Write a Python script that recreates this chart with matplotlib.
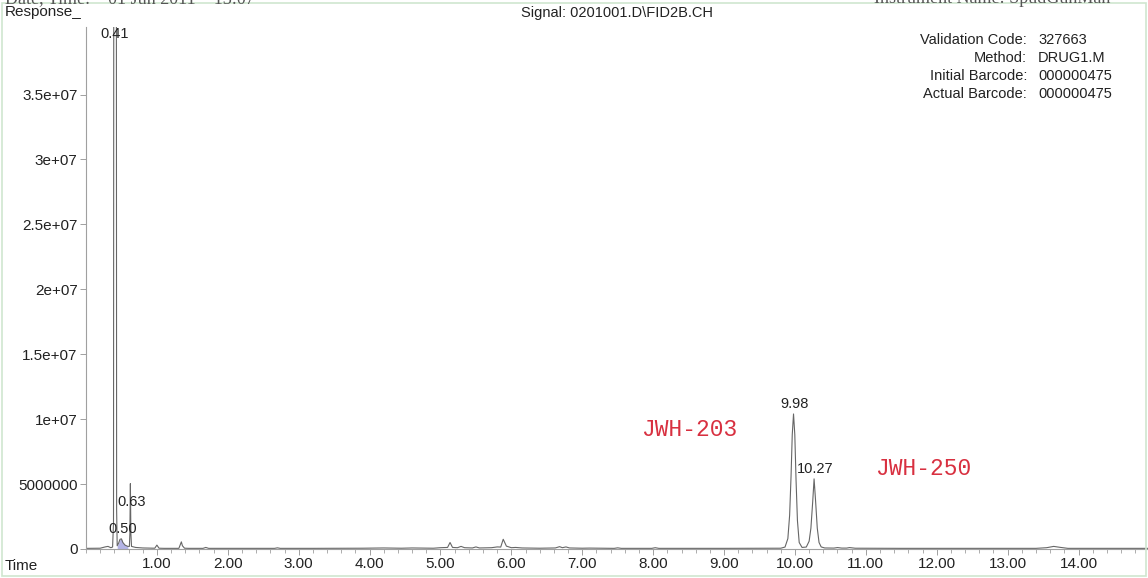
#!/usr/bin/env python3
"""
Recreate GC-FID chromatogram (Signal 0201001.D\\FID2B.CH)
"""
import numpy as np
import matplotlib
matplotlib.use('Agg')
import matplotlib.pyplot as plt
from matplotlib.ticker import FixedLocator, FixedFormatter, MultipleLocator, FormatStrFormatter
from matplotlib.patches import Rectangle

plt.rcParams['font.family'] = ['Liberation Sans', 'DejaVu Sans']

# trace vertices: retention time (min) and response
trace_t = [0.02, 0.20, 0.27, 0.31, 0.35, 0.375, 0.388, 0.393, 0.41, 0.427, 0.432,
           0.44, 0.46, 0.48, 0.50, 0.52, 0.55, 0.59, 0.612, 0.619, 0.626, 0.633,
           0.642, 0.70, 0.80, 0.97, 1.00, 1.03, 1.10, 1.31, 1.345, 1.36, 1.39,
           1.45, 1.65, 1.69, 1.73, 2.00, 2.66, 2.70, 2.74, 3.20, 3.90, 4.20, 4.45,
           4.60, 4.90, 5.00, 5.10, 5.135, 5.17, 5.24, 5.29, 5.34, 5.45, 5.50, 5.55,
           5.72, 5.80, 5.85, 5.885, 5.93, 6.00, 6.06, 6.15, 6.40, 6.62, 6.68, 6.72,
           6.77, 6.82, 7.00, 7.10, 7.45, 7.50, 7.55, 7.98, 8.03, 8.08, 9.00, 9.80,
           9.86, 9.90, 9.925, 9.945, 9.962, 9.98, 9.998, 10.015, 10.035, 10.06,
           10.10, 10.16, 10.20, 10.225, 10.25, 10.27, 10.29, 10.315, 10.34, 10.37,
           10.42, 10.55, 10.60, 10.66, 10.73, 10.77, 10.85, 11.50, 13.40, 13.55,
           13.65, 13.75, 13.85, 14.98]
trace_y = [5e4, 6e4, 1.6e5, 2.0e5, 1.0e5, 1.5e5, 2.0e6, 6.0e7, 4.0e8, 6.0e7, 3.0e6,
           2.5e5, 4.5e5, 7.5e5, 7.8e5, 5.0e5, 3.0e5, 2.0e5, 2.0e5, 1.2e6, 5.03e6, 1.2e6,
           2.0e5, 1.2e5, 8e4, 6e4, 3.0e5, 6e4, 5e4, 5e4, 5.5e5, 2.5e5, 6e4,
           5e4, 5e4, 1.2e5, 5e4, 5e4, 5e4, 9e4, 5e4, 5e4, 6e4, 8e4, 6e4,
           8e4, 6e4, 1.0e5, 1.2e5, 5.0e5, 1.2e5, 1.0e5, 2.0e5, 1.0e5, 8e4, 1.6e5, 8e4,
           1.0e5, 1.6e5, 1.5e5, 7.5e5, 2.2e5, 1.0e5, 1.2e5, 8e4, 6e4, 8e4, 1.8e5, 1.0e5,
           1.6e5, 8e4, 6e4, 7e4, 5e4, 9e4, 5e4, 5e4, 1.0e5, 5e4, 5e4, 6e4,
           1.5e5, 8.0e5, 2.6e6, 5.6e6, 8.8e6, 1.04e7, 8.8e6, 5.4e6, 2.2e6, 5.0e5,
           1.2e5, 1.5e5, 6.0e5, 1.6e6, 3.6e6, 5.4e6, 3.8e6, 1.6e6, 5.0e5, 1.6e5,
           8e4, 7e4, 1.1e5, 7e4, 7e4, 1.1e5, 6e4, 5e4, 5e4, 1.0e5,
           2.0e5, 1.2e5, 5e4, 5e4]

# integrated peaks with labels
peak_rt = [0.41, 0.50, 0.63, 9.98, 10.27]
peak_names = ['0.41', '0.50', '0.63', '9.98', '10.27']
shaded_range = (0.44, 0.60)

# compound annotations
compound_names = ['JWH-203', 'JWH-250']
compound_t = [8.51, 11.81]
compound_y = [9.2e6, 6.17e6]

ytick_vals = [0, 5e6, 1e7, 1.5e7, 2e7, 2.5e7, 3e7, 3.5e7]
ytick_labels = ['0', '5000000', '1e+07', '1.5e+07', '2e+07', '2.5e+07', '3e+07', '3.5e+07']

info_keys = ['Validation Code:', 'Method:', 'Initial Barcode:', 'Actual Barcode:']
info_vals = ['327663', 'DRUG1.M', '000000475', '000000475']

YTOP = 4.02e7


def generate_chromatogram():
    t = np.array(trace_t)
    y = np.array(trace_y)

    fig = plt.figure(figsize=(11.48, 5.78), dpi=100)
    ax = fig.add_axes([86 / 1148, 29 / 578, 1 - 86 / 1148, 522 / 578])

    ax.plot(t, y, color='#666666', linewidth=0.8)
    m = (t >= shaded_range[0]) & (t <= shaded_range[1])
    ax.fill_between(t[m], 0, y[m], color='#b4b4e6', linewidth=0)

    ax.set_xlim(0, 14.98)
    ax.set_ylim(0, YTOP)

    # peak labels
    for rt, name in zip(peak_rt, peak_names):
        h = np.interp(rt, t, y)
        if h > YTOP:
            ax.text(rt, YTOP, name, ha='center', va='top', fontsize=10.5,
                    color='#222222', clip_on=False)
        else:
            ax.annotate(name, xy=(rt, h), xytext=(1, 2), textcoords='offset points',
                        ha='center', va='bottom', fontsize=10.5, color='#222222')

    for name, ct, cy in zip(compound_names, compound_t, compound_y):
        ax.text(ct, cy, name, ha='center', va='center', fontsize=16.5,
                family='Liberation Mono', color='#d83040')

    # axes styling
    for s in ['top', 'right']:
        ax.spines[s].set_visible(False)
    for s in ['left', 'bottom']:
        ax.spines[s].set_color('#a0a0a0')
        ax.spines[s].set_linewidth(0.8)

    ax.yaxis.set_major_locator(FixedLocator(ytick_vals))
    ax.yaxis.set_major_formatter(FixedFormatter(ytick_labels))
    ax.xaxis.set_major_locator(FixedLocator(np.arange(1, 15)))
    ax.xaxis.set_major_formatter(FormatStrFormatter('%.2f'))
    ax.xaxis.set_minor_locator(MultipleLocator(0.2))
    ax.tick_params(axis='both', which='major', length=4, width=0.7, color='#a0a0a0',
                   labelsize=11, labelcolor='#222222', pad=2)
    ax.tick_params(axis='x', which='minor', length=3, width=0.6, color='#a0a0a0')

    # header texts
    fig.text(5 / 1148, 1 - 12 / 578, 'Response_', fontsize=11, color='#222222',
             ha='left', va='center')
    fig.text(5 / 1148, 1 - 566 / 578, 'Time', fontsize=11, color='#222222',
             ha='left', va='center')
    fig.text(617 / 1148, 1 - 13 / 578, 'Signal: 0201001.D\\FID2B.CH', fontsize=10.5,
             color='#222222', ha='center', va='center')
    for i, (k, v) in enumerate(zip(info_keys, info_vals)):
        yy = 1 - (40 + 18 * i) / 578
        fig.text(1027 / 1148, yy, k, fontsize=10.5, color='#222222', ha='right', va='center')
        fig.text(1038 / 1148, yy, v, fontsize=10.5, color='#222222', ha='left', va='center')

    # page header cut off by the top edge
    fig.text(5 / 1148, 1 - 3 / 578, 'Date, Time:    01 Jun 2011    13:07', fontsize=13,
             family='Liberation Serif', color='#555555', ha='left', va='baseline')
    fig.text(1110 / 1148, 1 - 3 / 578, 'Instrument Name: SpudGunMan', fontsize=13,
             family='Liberation Serif', color='#555555', ha='right', va='baseline')

    fig.patches.append(Rectangle((0.002, 0.004), 0.996, 0.99, transform=fig.transFigure,
                                 fill=False, edgecolor='#cfe6cf', linewidth=1.2))

    fig.savefig('out.png', dpi=100)
    plt.close(fig)


if __name__ == '__main__':
    generate_chromatogram()
